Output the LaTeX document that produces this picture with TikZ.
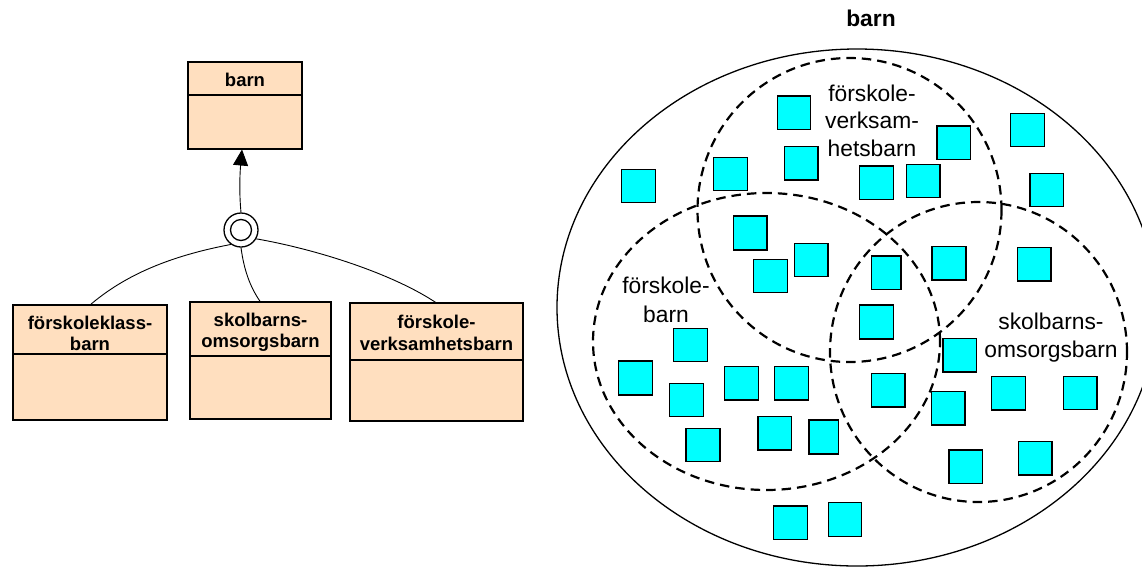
\documentclass[tikz,border=0pt]{standalone}
\usepackage{fontspec}
\setmainfont{Liberation Sans}
\usetikzlibrary{arrows.meta}
\definecolor{peach}{HTML}{FFDFBF}
\definecolor{sqcyan}{HTML}{00FFFF}
\begin{document}
\begin{tikzpicture}[x=1pt,y=-1pt,
  cls/.style={draw=black,fill=peach,line width=1.3pt,rectangle,inner sep=0pt,outer sep=0pt,anchor=north west},
  divider/.style={line width=1.3pt},
  btxt/.style={anchor=base,inner sep=0pt,font=\fontsize{18.5}{22}\selectfont\bfseries},
  rtxt/.style={anchor=base,inner sep=0pt,font=\fontsize{22.8}{27.5}\selectfont},
  ttl/.style={anchor=base,inner sep=0pt,font=\fontsize{22.8}{27.5}\selectfont\bfseries},
  link/.style={line width=0.9pt},
  venn/.style={line width=2.2pt,dash pattern=on 9.5pt off 6pt},
  sq/.style={draw=black,fill=sqcyan,line width=1.2pt}]
\useasboundingbox (0,0) rectangle (1142,566);

% ---------- left: class diagram ----------
\node[cls,minimum width=114pt,minimum height=87pt] (b0) at (188,62) {};
\draw[divider] (188,95) -- (302,95);
\node[btxt] (t0) at (245,86.7) {barn};

\node[cls,minimum width=154pt,minimum height=115pt] (b1) at (13,305) {};
\draw[divider] (13,354) -- (167,354);
\node[btxt] (t1a) at (90,329) {förskoleklass-};
\node[btxt] (t1b) at (90,350) {barn};

\node[cls,minimum width=141pt,minimum height=117pt] (b2) at (190,302) {};
\draw[divider] (190,356) -- (331,356);
\node[btxt] (t2a) at (260.5,326.5) {skolbarns-};
\node[btxt] (t2b) at (260.5,347) {omsorgsbarn};

\node[cls,minimum width=173pt,minimum height=118pt] (b3) at (350,303) {};
\draw[divider] (350,360) -- (523,360);
\node[btxt] (t3a) at (436.5,328.3) {förskole-};
\node[btxt] (t3b) at (436.5,350) {verksamhetsbarn};

\node[circle,draw=black,fill=white,line width=1.3pt,minimum size=34pt,inner sep=0pt] (g) at (241,230) {};
\node[circle,draw=black,line width=1.3pt,minimum size=21pt,inner sep=0pt] (gi) at (241,230) {};
\coordinate (tip) at (242,149.5);

\draw[link,-{Triangle[length=16pt,width=15pt]}] (g.north) .. controls (239,192) and (240,172) .. (tip);
\draw[link] (g.235) .. controls (170,256) and (125,275) .. (b1.north);
\draw[link] (g.270) .. controls (244,270) and (250,287) .. (b2.north);
\draw[link] (g.330) .. controls (320,250) and (395,275) .. (b3.north);

% ---------- right: Venn diagram ----------
\begin{scope}
\clip (0,0) rectangle (1142,566);
\draw[line width=1.3pt] (857,307.5) ellipse [x radius=300pt, y radius=258.5pt];
\end{scope}
\node[ttl] (title) at (871,26.7) {barn};

\draw[venn] (849.5,210) circle [radius=152pt];
\draw[venn] (766.5,341.5) ellipse [x radius=173.5pt, y radius=148.5pt];
\draw[venn] (978.5,352) ellipse [x radius=148.5pt, y radius=150pt];

\foreach \xa/\ya/\xb/\yb in {
 777.3/96/810.7/129.3, 784.7/146.7/818/180, 713.3/157.3/747.3/190.7,
 621.7/169.3/655.7/202.7, 733.7/216/767/250, 794.7/243.3/828/276.7,
 753.7/259.3/787.3/292.7, 937/126/970.7/159.3, 1010.7/113.3/1044.3/146.7,
 859.7/166/893.3/199.3, 906.3/164.3/940/197.7, 1030/173.3/1063.7/206.7,
 932/246.7/966/280, 1017.3/247.7/1051/281, 871.3/256/901/289.3,
 859.7/305/893.3/339, 943/338.7/976.7/372, 871.3/373.7/905/407,
 931.3/391.7/965/425, 991.7/376.7/1025.3/410, 1063.3/376.7/1097/409.3,
 949/450/982.7/483.3, 1018.3/441.7/1052/475, 828.3/502.7/861.7/536.3,
 673.3/328.3/707.3/361.3, 618.7/361/652.7/395, 669.7/383.3/703.3/416.7,
 724.7/366.7/758.3/400, 774.7/366.7/808.3/400, 686/428.3/720/461.7,
 758/416.7/791.7/450, 809/420/838.7/454, 773.7/506/807.7/539.3}
 \draw[sq] (\xa,\ya) rectangle (\xb,\yb);

\node[rtxt] (l1a) at (872,101.5) {förskole-};
\node[rtxt] (l1b) at (872,128.5) {verksam-};
\node[rtxt] (l1c) at (872,156) {hetsbarn};
\node[rtxt] (l2a) at (666,293) {förskole-};
\node[rtxt] (l2b) at (666,322) {barn};
\node[rtxt] (l3a) at (1051,329) {skolbarns-};
\node[rtxt] (l3b) at (1051,357) {omsorgsbarn};
\end{tikzpicture}
\end{document}
